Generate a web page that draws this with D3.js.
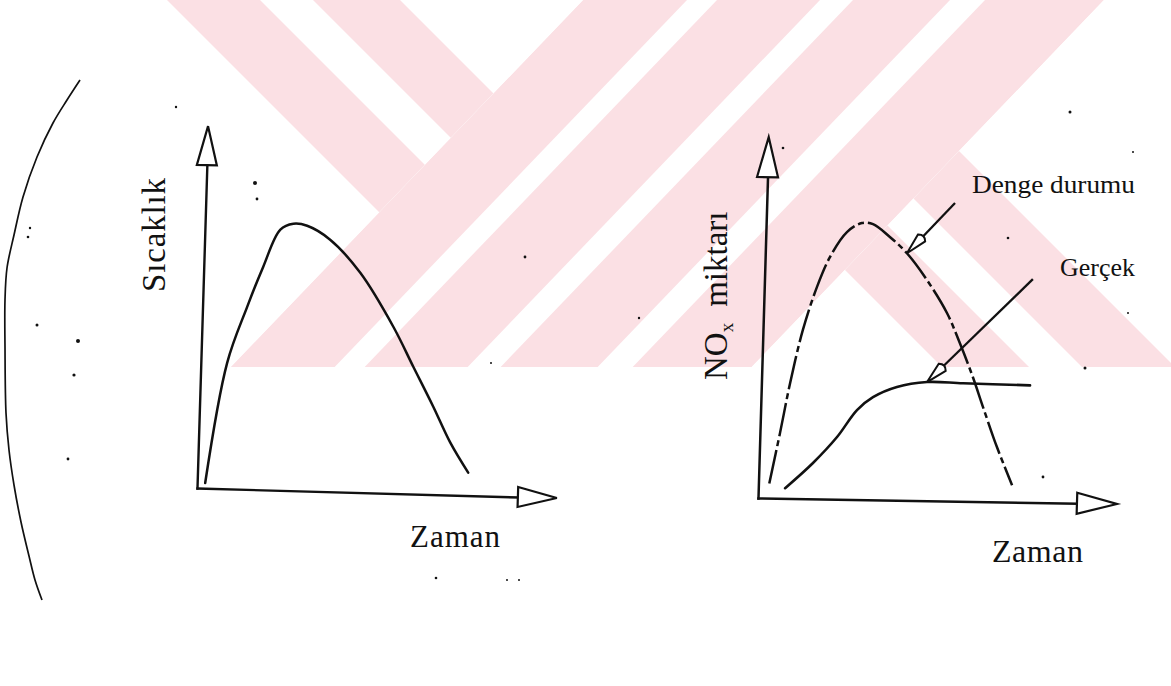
<!DOCTYPE html>
<html>
<head>
<meta charset="utf-8">
<script src="https://cdn.jsdelivr.net/npm/d3@7"></script>
<style>
  html, body { margin: 0; padding: 0; background: #ffffff; }
  svg { display: block; }
  text { font-family: "Liberation Serif", "Times New Roman", serif; fill: #111; }
</style>
</head>
<body>
<svg id="fig" width="1171" height="686"></svg>
<script>
// ---- data (time and amounts in arbitrary units, 0–100) ----
// Left panel: flame temperature over time
const tempTime  = [2.5, 8.2, 13.9, 18.5, 23.5, 27.5, 31.8, 39.1, 48.8, 59.6, 66.2, 72.8, 78.4, 84.3];
const tempValue = [1.6, 39.0, 56.5, 69.0, 80.7, 82.6, 82.1, 78.0, 68.0, 51.6, 39.4, 27.2, 16.3, 7.1];

// Right panel: NOx amount, equilibrium vs. actual
const eqTime  = [3.4, 6.3, 9.0, 12.5, 16.5, 20.3, 25.4, 30.0, 33.5, 38.9, 44.4, 50.9, 57.5, 61.8, 66.2, 69.7, 74.4, 79.5];
const eqValue = [4.6, 20.4, 36.0, 52.6, 66.0, 75.4, 83.3, 86.2, 85.9, 82.0, 77.0, 68.8, 58.6, 49.3, 38.8, 29.4, 17.1, 5.3];
const actualTime  = [8.4, 16.9, 24.2, 30.2, 35.1, 42.5, 51.9, 63.2, 84.2];
const actualValue = [3.2, 11.2, 19.4, 27.9, 32.0, 35.3, 37.0, 36.8, 36.5];

// callouts: tail of the leader (time, value) and the index of the point it touches
const calloutTailTime  = [59.0, 84.1];
const calloutTailValue = [92.9, 69.6];
const calloutPointIdx  = [10, 6];

// texts
const leftYLabel  = "Sıcaklık";
const rightYLabel = ["NO", "x", "miktarı"];
const xLabel      = "Zaman";
const seriesLabels = ["Denge durumu", "Gerçek"];

// ---- layout ----
const W = 1171, H = 686;
const ink = "#111";
const pink = "#fbe0e4";

const svg = d3.select("#fig");
const defs = svg.append("defs");

// ---- background emblem: diagonal stripes ----
const wm = { k: 0.96, b: 367, s1: 583, s2: 1104,
  slash: [[583, 687], [717, 820], [853, 950], [985, 1104]],
  backL: [[167, 260], [313, 400]],
  backR: [[575, 662], [715, 808]] };
const poly = pts => "M" + pts.map(p => p.join(",")).join("L") + "Z";
const kb = wm.k * wm.b;
const regions = {
  wmL: [[0, 0], [wm.s1, 0], [wm.s1 - kb, wm.b], [0, wm.b]],
  wmM: [[wm.s1, 0], [wm.s2, 0], [wm.s2 - kb, wm.b], [wm.s1 - kb, wm.b]],
  wmR: [[wm.s2, 0], [W, 0], [W, wm.b], [wm.s2 - kb, wm.b]]
};
Object.entries(regions).forEach(([id, pts]) => {
  defs.append("clipPath").attr("id", id).append("path").attr("d", poly(pts));
});
const wmG = svg.append("g").attr("fill", pink);
const backBand = ([a, c]) => [[a, 0], [c, 0], [c + wm.b, wm.b], [a + wm.b, wm.b]];
const slashBand = ([a, c]) => [[a, 0], [c, 0], [c - kb, wm.b], [a - kb, wm.b]];
wmG.append("g").attr("clip-path", "url(#wmL)").selectAll("path").data(wm.backL)
  .join("path").attr("d", d => poly(backBand(d)));
wmG.append("g").attr("clip-path", "url(#wmM)").selectAll("path").data(wm.slash)
  .join("path").attr("d", d => poly(slashBand(d)));
wmG.append("g").attr("clip-path", "url(#wmR)").selectAll("path").data(wm.backR)
  .join("path").attr("d", d => poly(backBand(d)));

// ---- page margin arc on the left ----
const arcPts = [[80, 80], [67, 100], [53, 123], [37, 157], [23, 197], [14, 235], [7, 268],
  [5, 300], [5, 347], [6, 413], [9, 450], [14, 485], [21, 522], [29, 556], [35, 580], [42, 600]];
svg.append("path")
  .attr("d", d3.line().curve(d3.curveCatmullRom.alpha(0.5))(arcPts))
  .attr("fill", "none").attr("stroke", ink).attr("stroke-width", 1.7);

// ---- a panel: tilted frame with hollow arrow-headed axes ----
function panel(cfg) {
  const a1 = cfg.angX * Math.PI / 180, a2 = cfg.angY * Math.PI / 180;
  const g = svg.append("g").attr("transform",
    `matrix(${Math.cos(a1)},${Math.sin(a1)},${-Math.sin(a2)},${Math.cos(a2)},${cfg.ox},${cfg.oy})`);
  const x = d3.scaleLinear().domain([0, 100]).range([0, cfg.len]);
  const y = d3.scaleLinear().domain([0, 100]).range([0, -cfg.hgt]);

  const xAxis = g.append("g").call(d3.axisBottom(x).tickValues([]).tickSizeOuter(0));
  const yAxis = g.append("g").call(d3.axisLeft(y).tickValues([]).tickSizeOuter(0));
  [xAxis, yAxis].forEach(ax => ax.select(".domain")
    .attr("stroke", ink).attr("stroke-width", cfg.axisW).attr("stroke-linecap", "square"));

  // hollow arrow heads
  const L = cfg.len, Hh = cfg.hgt;
  g.append("path")
    .attr("d", `M${L},${-cfg.headW}L${L + cfg.headL},0L${L},${cfg.headW}Z`)
    .attr("fill", "#fff").attr("stroke", ink).attr("stroke-width", 2.2).attr("stroke-linejoin", "miter");
  g.append("path")
    .attr("d", `M${-cfg.headW},${-Hh}L0,${-Hh - cfg.headL}L${cfg.headW},${-Hh}Z`)
    .attr("fill", "#fff").attr("stroke", ink).attr("stroke-width", 2.2).attr("stroke-linejoin", "miter");
  return { g, x, y };
}

const curve = (x, y) => d3.line().x(d => x(d[0])).y(d => y(d[1])).curve(d3.curveCatmullRom.alpha(0.5));

// ---- left panel: temperature ----
const P1 = panel({ ox: 197, oy: 488, angX: 1.6, angY: 1.75, len: 321, hgt: 323, headL: 39, headW: 10, axisW: 2.4 });
P1.g.append("path")
  .datum(tempTime.map((t, i) => [t, tempValue[i]]))
  .attr("d", curve(P1.x, P1.y))
  .attr("fill", "none").attr("stroke", ink).attr("stroke-width", 2.5).attr("stroke-linecap", "round");

// ---- right panel: NOx ----
const P2 = panel({ ox: 758, oy: 498, angX: 0.95, angY: 1.7, len: 319, hgt: 321, headL: 40, headW: 10.5, axisW: 2.5 });
const eqPts = eqTime.map((t, i) => [t, eqValue[i]]);
const acPts = actualTime.map((t, i) => [t, actualValue[i]]);
P2.g.append("path").datum(eqPts).attr("d", curve(P2.x, P2.y))
  .attr("fill", "none").attr("stroke", ink).attr("stroke-width", 2.5)
  .attr("stroke-dasharray", "34,4,6,4");
P2.g.append("path").datum(acPts).attr("d", curve(P2.x, P2.y))
  .attr("fill", "none").attr("stroke", ink).attr("stroke-width", 2.6).attr("stroke-linecap", "round");

// callout leaders with hollow pointed heads
[eqPts, acPts].forEach((pts, i) => {
  const tip = pts[calloutPointIdx[i]];
  const tx = P2.x(tip[0]), ty = P2.y(tip[1]);
  const sx = P2.x(calloutTailTime[i]), sy = P2.y(calloutTailValue[i]);
  const dx = tx - sx, dy = ty - sy, dl = Math.hypot(dx, dy);
  const ux = dx / dl, uy = dy / dl, nx = -uy, ny = ux;
  const hl = 21, hw = 5;
  P2.g.append("line").attr("x1", sx).attr("y1", sy).attr("x2", tx - ux * hl).attr("y2", ty - uy * hl)
    .attr("stroke", ink).attr("stroke-width", 2.3);
  const bx = tx - ux * hl, by = ty - uy * hl;
  P2.g.append("path")
    .attr("d", `M${tx},${ty}L${bx + nx * hw},${by + ny * hw}Q${bx - ux * 5},${by - uy * 5} ${bx - nx * hw},${by - ny * hw}Z`)
    .attr("fill", "#fff").attr("stroke", ink).attr("stroke-width", 2);
});

// ---- texts ----
const T = svg.append("g");
T.append("text").attr("transform", "translate(165,235) rotate(-90)")
  .attr("text-anchor", "middle").attr("font-size", 33)
  .attr("textLength", 114).attr("lengthAdjust", "spacing").text(leftYLabel);

const nox = T.append("text").attr("transform", "translate(727,380) rotate(-90)")
  .attr("font-size", 33);
nox.append("tspan").text(rightYLabel[0]);
nox.append("tspan").attr("font-size", 19).attr("dy", 6).text(rightYLabel[1]);
nox.append("tspan").attr("dy", -6).attr("dx", 16).text(rightYLabel[2]);

T.append("text").attr("x", 410).attr("y", 547).attr("font-size", 31)
  .attr("textLength", 90).attr("lengthAdjust", "spacing").text(xLabel);
T.append("text").attr("x", 992).attr("y", 562).attr("font-size", 32)
  .attr("textLength", 91).attr("lengthAdjust", "spacing").text(xLabel);
T.append("text").attr("x", 972).attr("y", 193).attr("font-size", 26)
  .attr("textLength", 163).attr("lengthAdjust", "spacingAndGlyphs").text(seriesLabels[0]);
T.append("text").attr("x", 1060).attr("y", 276).attr("font-size", 26)
  .attr("textLength", 75).attr("lengthAdjust", "spacingAndGlyphs").text(seriesLabels[1]);

// ---- stray paper specks ----
const specks = [[176, 107, 1.2], [255, 183, 2], [257, 199, 1.4], [525, 257, 1.4], [491, 363, 1],
  [30, 228, 1.2], [28, 237, 1.3], [37, 325, 1.5], [78, 341, 2], [74, 375, 1.6], [68, 459, 1.4],
  [436, 578, 1.3], [507, 580, 1], [519, 580, 1], [1070, 112, 1.5], [1133, 152, 1], [1008, 238, 1.3],
  [1128, 313, 1], [1085, 368, 1.5], [1043, 477, 1.4], [639, 318, 1.2], [783, 148, 1.3]];
svg.append("g").selectAll("circle").data(specks).join("circle")
  .attr("cx", d => d[0]).attr("cy", d => d[1]).attr("r", d => d[2]).attr("fill", ink);
</script>
</body>
</html>
